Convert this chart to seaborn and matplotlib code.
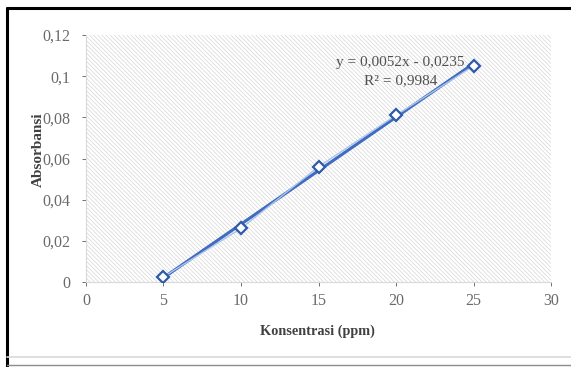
import matplotlib
matplotlib.use("Agg")
import matplotlib.pyplot as plt
import numpy as np
import pandas as pd
import seaborn as sns
from matplotlib.lines import Line2D

# Data
konsentrasi = [5, 10, 15, 20, 25]
absorbansi = [0.0025, 0.026, 0.056, 0.081, 0.105]
x_ticks = [0, 5, 10, 15, 20, 25, 30]
y_ticks = [0, 0.02, 0.04, 0.06, 0.08, 0.1, 0.12]
y_tick_labels = ["0", "0,02", "0,04", "0,06", "0,08", "0,1", "0,12"]
equation_text = "y = 0,0052x - 0,0235"
r2_text = "R² = 0,9984"

sns.set_theme(style="white")
plt.rcParams["font.family"] = ["Liberation Serif", "DejaVu Serif"]
plt.rcParams["hatch.color"] = "#d2d2d2"
plt.rcParams["hatch.linewidth"] = 0.45

df = pd.DataFrame({"Konsentrasi": konsentrasi, "Absorbansi": absorbansi})

fig = plt.figure(figsize=(5.71, 3.67), dpi=100)
ax = fig.add_axes([0.1506, 0.2316, 0.8144, 0.673])

# hatched plot area like the Excel pattern fill
ax.set_facecolor("white")
ax.patch.set_hatch("\\\\\\\\\\\\\\\\")
ax.patch.set_edgecolor("#d2d2d2")

# trendline
sns.regplot(data=df, x="Konsentrasi", y="Absorbansi", ci=None, scatter=False,
            truncate=True, color="#3f6cc0", line_kws={"linewidth": 2.2, "zorder": 3}, ax=ax)
# series line with markers
sns.lineplot(data=df, x="Konsentrasi", y="Absorbansi", color="#a9c3ea", linewidth=1.0,
             marker="D", markersize=6, markerfacecolor="white", markeredgecolor="#2f5aa8",
             markeredgewidth=1.6, zorder=4, ax=ax)

ax.set_xlim(0, 30)
ax.set_ylim(0, 0.12)
ax.set_xticks(x_ticks)
ax.set_xticklabels([str(v) for v in x_ticks])
ax.set_yticks(y_ticks)
ax.set_yticklabels(y_tick_labels)
ax.tick_params(axis="both", colors="#595959", labelsize=11.5, length=3, width=0.6,
               direction="out", bottom=True, left=True)
ax.tick_params(axis="x", pad=5)
ax.tick_params(axis="y", pad=8)
for lbl in ax.get_xticklabels() + ax.get_yticklabels():
    lbl.set_color("#6a6a6a")
for side in ["top", "right"]:
    ax.spines[side].set_visible(False)
for side in ["left", "bottom"]:
    ax.spines[side].set_color("#d9d9d9")
    ax.spines[side].set_linewidth(0.8)

ax.set_xlabel("Konsentrasi (ppm)", fontsize=10.3, fontweight="bold", color="#404040")
ax.set_ylabel("Absorbansi", fontsize=11, fontweight="bold", color="#404040")
ax.xaxis.set_label_coords(0.497, -0.174)
ax.yaxis.set_label_coords(-0.088, 0.534)

ax.text(20.3, 0.1065, equation_text, fontsize=11, color="#505050", ha="center", va="center")
ax.text(20.3, 0.098, r2_text, fontsize=11, color="#505050", ha="center", va="center")

# outer frame like the screenshot
fig.add_artist(Line2D([0.012, 0.012], [0.0, 0.977], transform=fig.transFigure, color="black", linewidth=2.2))
fig.add_artist(Line2D([0.012, 1.0], [0.977, 0.977], transform=fig.transFigure, color="black", linewidth=2.2))
fig.add_artist(Line2D([0.012, 1.0], [0.027, 0.027], transform=fig.transFigure, color="#d9d9d9", linewidth=1.2))
fig.add_artist(Line2D([0.012, 1.0], [0.005, 0.005], transform=fig.transFigure, color="#8c8c8c", linewidth=1.0))

fig.savefig("out.png", dpi=100)
